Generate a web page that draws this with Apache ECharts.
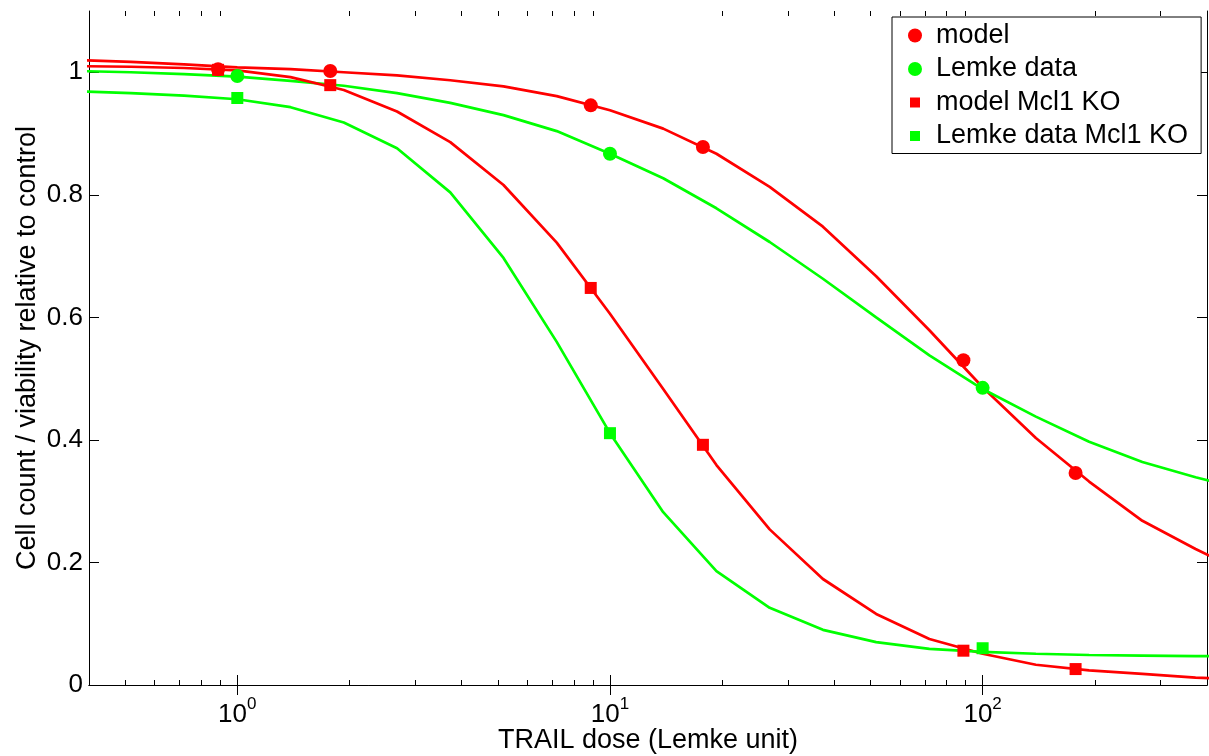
<!DOCTYPE html>
<html><head><meta charset="utf-8">
<script src="https://cdn.jsdelivr.net/npm/echarts@6/dist/echarts.min.js"></script>
<style>html,body{margin:0;padding:0;background:#fff}#c{width:1209px;height:756px}</style>
</head><body><div id="c"></div><script>
// Simulated dose grid for the fitted curves
const curveDose = [0.3728, 0.5179, 0.7197, 1, 1.3895, 1.9307, 2.6827, 3.7276, 5.1795, 7.1969, 10, 13.895, 19.307, 26.827, 37.276, 51.795, 71.969, 100, 138.95, 193.07, 268.27, 372.76, 517.95];
const modelCurve = [1.020, 1.017, 1.013, 1.008, 1.005, 1.000, 0.995, 0.987, 0.977, 0.961, 0.938, 0.908, 0.867, 0.813, 0.748, 0.667, 0.579, 0.486, 0.403, 0.332, 0.268, 0.222, 0.180];
const lemkeCurve = [1.002, 1.000, 0.997, 0.993, 0.986, 0.978, 0.966, 0.950, 0.930, 0.904, 0.867, 0.827, 0.778, 0.723, 0.663, 0.600, 0.538, 0.483, 0.438, 0.397, 0.364, 0.339, 0.318];
const modelKoCurve = [1.010, 1.009, 1.007, 1.003, 0.992, 0.971, 0.936, 0.886, 0.816, 0.722, 0.606, 0.483, 0.359, 0.254, 0.173, 0.116, 0.075, 0.051, 0.033, 0.024, 0.018, 0.012, 0.009];
const lemkeKoCurve = [0.969, 0.966, 0.962, 0.956, 0.943, 0.918, 0.876, 0.804, 0.697, 0.560, 0.411, 0.282, 0.186, 0.126, 0.090, 0.070, 0.059, 0.054, 0.051, 0.049, 0.048, 0.047, 0.047];

// Marker points
const modelDose = [0.888, 1.776, 8.88, 17.76, 88.8, 177.6];
const modelVals = [1.005, 1.002, 0.946, 0.878, 0.530, 0.346];
const modelKoVals = [1.004, 0.979, 0.648, 0.392, 0.056, 0.026];
const lemkeDose = [1, 10, 100];
const lemkeVals = [0.994, 0.867, 0.485];
const lemkeKoVals = [0.958, 0.411, 0.060];

// Ticks
const xMajorTicks = [1, 10, 100];
const xMajorExp = ['0', '1', '2'];
const xMinorTicks = [0.5, 0.6, 0.7, 0.8, 0.9, 2, 3, 4, 5, 6, 7, 8, 9, 20, 30, 40, 50, 60, 70, 80, 90, 200, 300];
const yTicks = [0, 0.2, 0.4, 0.6, 0.8, 1];

const legendNames = ['model', 'Lemke data', 'model Mcl1 KO', 'Lemke data Mcl1 KO'];

const RED = '#ff0000', GREEN = '#00ff00';
const FONT = "'Liberation Sans', Arial, Helvetica, sans-serif";
const zip = (xs, ys) => xs.map((x, i) => [x, ys[i]]);
const squareIcon = 'path://M0,0L0,0M14,14L14,14M2,2L12,2L12,12L2,12Z';

const gridPos = { left: 89, right: 2, top: 11, bottom: 71, containLabel: false, outerBoundsMode: 'none' };
const axisLineStyle = { show: true, lineStyle: { color: '#000', width: 1 } };

const chart = echarts.init(document.getElementById('c'), null, { renderer: 'canvas' });

function lineSeries(data, color) {
  return { type: 'line', xAxisIndex: 0, yAxisIndex: 0, data: data, showSymbol: false, symbol: 'none',
    lineStyle: { color: color, width: 2.7, opacity: 1 }, itemStyle: { color: color }, clip: true, z: 2, silent: true };
}
function scatterSeries(name, data, color, symbol, size) {
  return { name: name, type: 'scatter', xAxisIndex: 0, yAxisIndex: 0, symbol: symbol, symbolSize: size,
    itemStyle: { color: color, opacity: 1 }, data: data, z: 5 };
}

chart.setOption({
  animation: false,
  backgroundColor: '#fff',
  textStyle: { fontFamily: FONT },
  grid: [Object.assign({}, gridPos), Object.assign({}, gridPos)],
  xAxis: [
    { type: 'log', logBase: 10, min: 0.4, max: 400, gridIndex: 0, position: 'bottom',
      axisLine: axisLineStyle, splitLine: { show: false },
      axisTick: { show: true, inside: true, length: 10, customValues: xMajorTicks, lineStyle: { color: '#000' } },
      axisLabel: { show: true, margin: 15, customValues: xMajorTicks, color: '#000',
        formatter: function (v) { const i = xMajorTicks.indexOf(v); return '{b|10}{s|' + (i >= 0 ? xMajorExp[i] : '') + '}'; },
        rich: {
          b: { fontSize: 26, fontFamily: FONT, color: '#000', lineHeight: 28, verticalAlign: 'bottom' },
          s: { fontSize: 17, fontFamily: FONT, color: '#000', lineHeight: 17, padding: [0, 0, 15, 0], verticalAlign: 'bottom' }
        } },
      name: 'TRAIL dose (Lemke unit)', nameLocation: 'middle', nameGap: 42, nameMoveOverlap: false,
      nameTextStyle: { fontSize: 27, color: '#000', fontFamily: FONT } },
    { type: 'log', logBase: 10, min: 0.4, max: 400, gridIndex: 0, position: 'top',
      axisLine: axisLineStyle, splitLine: { show: false }, axisLabel: { show: false },
      axisTick: { show: true, inside: true, length: 10, customValues: xMajorTicks, lineStyle: { color: '#000' } } },
    { type: 'log', logBase: 10, min: 0.4, max: 400, gridIndex: 1, position: 'bottom',
      axisLine: { show: false }, splitLine: { show: false }, axisLabel: { show: false },
      axisTick: { show: true, inside: true, length: 5, customValues: xMinorTicks, lineStyle: { color: '#000' } } },
    { type: 'log', logBase: 10, min: 0.4, max: 400, gridIndex: 1, position: 'top',
      axisLine: { show: false }, splitLine: { show: false }, axisLabel: { show: false },
      axisTick: { show: true, inside: true, length: 5, customValues: xMinorTicks, lineStyle: { color: '#000' } } }
  ],
  yAxis: [
    { type: 'value', min: 0, max: 1.1, gridIndex: 0, position: 'left',
      axisLine: axisLineStyle, splitLine: { show: false },
      axisTick: { show: true, inside: true, length: 10, customValues: yTicks, lineStyle: { color: '#000' } },
      axisLabel: { show: true, margin: 6, customValues: yTicks, color: '#000', fontSize: 26, fontFamily: FONT },
      name: 'Cell count / viability relative to control', nameLocation: 'middle', nameGap: 48, nameMoveOverlap: false,
      nameTextStyle: { fontSize: 27, color: '#000', fontFamily: FONT } },
    { type: 'value', min: 0, max: 1.1, gridIndex: 0, position: 'right',
      axisLine: axisLineStyle, splitLine: { show: false }, axisLabel: { show: false },
      axisTick: { show: true, inside: true, length: 10, customValues: yTicks, lineStyle: { color: '#000' } } },
    { type: 'value', min: 0, max: 1.1, gridIndex: 1, show: false }
  ],
  legend: {
    left: 892, top: 17, orient: 'vertical',
    padding: [5, 13, 4, 16], itemGap: 6.5, itemWidth: 14, itemHeight: 14,
    borderColor: '#000', borderWidth: 1, backgroundColor: '#fff',
    textStyle: { fontSize: 27, color: '#000', fontFamily: FONT, padding: [0, 0, 0, 9] },
    selectedMode: false,
    data: [
      { name: legendNames[0], icon: 'circle' },
      { name: legendNames[1], icon: 'circle' },
      { name: legendNames[2], icon: squareIcon },
      { name: legendNames[3], icon: squareIcon }
    ]
  },
  series: [
    lineSeries(zip(curveDose, modelCurve), RED),
    lineSeries(zip(curveDose, lemkeCurve), GREEN),
    lineSeries(zip(curveDose, modelKoCurve), RED),
    lineSeries(zip(curveDose, lemkeKoCurve), GREEN),
    scatterSeries(legendNames[0], zip(modelDose, modelVals), RED, 'circle', 14),
    scatterSeries(legendNames[1], zip(lemkeDose, lemkeVals), GREEN, 'circle', 14),
    scatterSeries(legendNames[2], zip(modelDose, modelKoVals), RED, 'rect', 12),
    scatterSeries(legendNames[3], zip(lemkeDose, lemkeKoVals), GREEN, 'rect', 12)
  ]
});
</script></body></html>
